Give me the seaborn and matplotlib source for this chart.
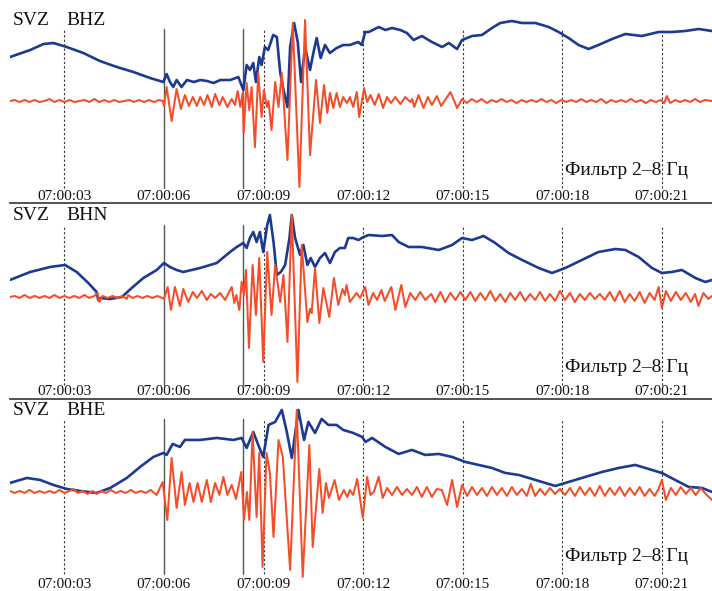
import pandas as pd
import matplotlib
matplotlib.use("Agg")
import matplotlib.pyplot as plt
import seaborn as sns

# время в секундах после 07:00:00, амплитуда в относительных единицах
BLUE = "#1c3a92"
RED = "#f44d27"

tick_seconds = [3, 6, 9, 12, 15, 18, 21]
dotted_seconds = [3, 9, 12, 15, 18, 21]
pick_seconds = [6.0, 8.39]
channels = ["BHZ", "BHN", "BHE"]
filter_label = "Фильтр 2–8 Гц"

# --- BHZ ---
bhz_raw = [(1.36, 44), (1.97, 51), (2.37, 57), (2.67, 58), (3.07, 54), (3.57, 48), (4.07, 40),
           (4.58, 34), (5.08, 29), (5.58, 23), (5.98, 19), (6.08, 27), (6.18, 19), (6.28, 14),
           (6.38, 21), (6.53, 14), (6.69, 21), (6.9, 19), (7.09, 21), (7.3, 20), (7.49, 18),
           (7.7, 21), (7.89, 21), (8.0, 21), (8.24, 24), (8.39, 11), (8.49, 36), (8.59, 31),
           (8.69, 38), (8.77, 19), (8.87, 44), (8.94, 36), (9.04, 54), (9.14, 51), (9.29, 66),
           (9.40, 64), (9.50, 29), (9.60, 11), (9.72, -6), (9.80, 54), (9.92, 78), (10.03, 59),
           (10.13, 19), (10.25, 54), (10.40, 31), (10.50, 48), (10.60, 63), (10.72, 43),
           (10.85, 56), (11.00, 48), (11.20, 53), (11.40, 56), (11.60, 56), (11.85, 59),
           (11.96, 56), (12.06, 69), (12.17, 69), (12.47, 74), (12.67, 71), (12.87, 73),
           (13.12, 71), (13.32, 68), (13.52, 61), (13.77, 65), (14.07, 59), (14.38, 54),
           (14.58, 58), (14.83, 52), (14.98, 61), (15.28, 65), (15.58, 66), (15.88, 73),
           (16.13, 78), (16.48, 80), (16.79, 78), (17.19, 78), (17.59, 74), (17.89, 69),
           (18.19, 63), (18.49, 56), (18.79, 52), (19.09, 56), (19.50, 62), (19.90, 67),
           (20.40, 65), (20.90, 69), (21.30, 69), (21.70, 70), (22.11, 72), (22.51, 70)]

bhz_filt = [(1.36, 0), (1.50, 1), (1.65, -1), (1.80, 1), (1.95, -1), (2.10, 1), (2.25, -1),
            (2.40, 0), (2.55, 2), (2.70, -1), (2.85, 1), (3.00, -1), (3.15, 1), (3.30, -1),
            (3.45, 0), (3.60, 1), (3.75, -1), (3.90, 2), (4.05, -1), (4.20, 1), (4.35, -1),
            (4.50, 1), (4.65, -1), (4.80, 0), (4.95, 1), (5.10, -1), (5.25, 1), (5.40, -1),
            (5.55, 1), (5.70, -1), (5.85, 1), (5.97, 0),
            (6.00, -5), (6.08, 14), (6.23, -20), (6.38, 12), (6.51, -8), (6.63, 6), (6.75, -5),
            (6.87, 4), (6.99, -5), (7.09, 4), (7.21, -4), (7.31, 6), (7.44, -6), (7.54, 7),
            (7.67, -4), (7.77, 4), (7.91, -6), (8.04, 2), (8.14, -4), (8.22, 10), (8.30, -6),
            (8.37, 8), (8.40, -32), (8.49, 18), (8.57, -9), (8.64, 14), (8.74, -46), (8.84, 28),
            (8.94, -16), (9.01, 11), (9.10, -6), (9.15, 0), (9.24, -29), (9.35, 19), (9.45, -6),
            (9.55, 28), (9.72, -59), (9.88, 78), (10.08, -86), (10.25, 81), (10.40, -54),
            (10.58, 21), (10.70, -22), (10.82, 16), (10.92, -12), (11.00, 8), (11.10, -7),
            (11.20, 8), (11.30, -6), (11.40, 4), (11.51, -2), (11.60, 4), (11.70, -6),
            (11.81, 9), (11.88, -16), (12.03, 13), (12.12, -1), (12.22, 6), (12.35, -4),
            (12.47, 7), (12.60, -7), (12.72, 4), (12.84, -2), (12.97, 4), (13.12, -3),
            (13.27, 4), (13.42, -1), (13.48, 2), (13.54, -6), (13.67, 6), (13.82, -7),
            (13.95, 4), (14.07, -4), (14.22, 5), (14.35, -5), (14.47, 1), (14.63, 9),
            (14.83, -7), (14.98, 2),
            (15.12, -2), (15.27, 2), (15.42, -1), (15.57, 2), (15.72, -2), (15.87, 1),
            (16.02, -1), (16.17, 2), (16.32, -1), (16.47, 1), (16.62, -2), (16.77, 1),
            (16.92, -1), (17.07, 1), (17.22, -1), (17.37, 2), (17.52, -1), (17.67, 1),
            (17.82, -2), (17.97, 1), (18.12, -1), (18.27, 1), (18.42, -1), (18.57, 2),
            (18.72, -1), (18.87, 1), (19.02, -1), (19.17, 2), (19.32, -2), (19.47, 1),
            (19.62, -1), (19.77, 1), (19.92, -1), (20.07, 2), (20.22, -1), (20.37, 1),
            (20.52, -2), (20.67, 1), (20.82, -1), (20.97, 1), (21.07, -2), (21.15, 5),
            (21.25, -2), (21.40, 1), (21.55, -1), (21.70, 1), (21.85, -1), (22.00, 2),
            (22.15, -1), (22.30, 1), (22.51, 0)]

# --- BHN ---
bhn_raw = [(1.36, 17), (1.97, 25), (2.57, 30), (3.02, 32), (3.37, 25), (3.72, 14), (3.97, 5),
           (4.02, -3), (4.07, -1), (4.38, -2), (4.73, 0), (5.03, 9), (5.38, 19), (5.78, 27),
           (6.00, 34), (6.18, 30), (6.38, 27), (6.58, 25), (7.09, 29), (7.59, 34), (7.99, 45),
           (8.19, 50), (8.39, 54), (8.49, 49), (8.59, 59), (8.69, 65), (8.79, 55), (8.89, 65),
           (8.99, 45), (9.11, 72), (9.19, 82), (9.30, 55), (9.40, 22), (9.52, 25), (9.65, 32),
           (9.78, 59), (9.85, 82), (9.95, 59), (10.10, 42), (10.20, 52), (10.32, 32),
           (10.42, 39), (10.55, 30), (10.70, 39), (10.85, 44), (11.00, 34), (11.15, 45),
           (11.30, 49), (11.45, 49), (11.55, 59), (11.70, 59), (11.86, 57), (12.01, 60),
           (12.17, 62), (12.57, 61), (12.87, 62), (13.07, 55), (13.37, 50), (13.77, 50),
           (14.28, 47), (14.68, 52), (14.98, 59), (15.28, 57), (15.63, 61), (15.98, 54),
           (16.38, 44), (16.79, 37), (17.29, 29), (17.69, 24), (18.09, 29), (18.59, 37),
           (19.09, 45), (19.60, 48), (19.90, 47), (20.30, 40), (20.70, 29), (21.00, 24),
           (21.30, 25), (21.60, 27), (22.01, 19), (22.31, 15), (22.51, 17)]

bhn_filt = [(1.36, 0), (1.50, 1), (1.65, -1), (1.80, 2), (1.95, -1), (2.10, 1), (2.25, -1),
            (2.40, 1), (2.55, -1), (2.70, 2), (2.85, -1), (3.00, 1), (3.15, -1), (3.30, 1),
            (3.45, -1), (3.60, 2), (3.75, -1), (3.90, 1), (4.00, 4), (4.05, -5), (4.15, 1),
            (4.30, -1), (4.45, 1), (4.60, -1), (4.75, 1), (4.88, -2), (4.92, 2), (5.05, -1),
            (5.20, 1), (5.35, -1), (5.50, 1), (5.65, -1), (5.80, 1), (5.95, -1),
            (6.00, -2), (6.11, 10), (6.21, -13), (6.33, 10), (6.48, -9), (6.58, 8), (6.73, -5),
            (6.87, 5), (6.99, -1), (7.14, 6), (7.29, -3), (7.41, 3), (7.54, -1), (7.69, 4),
            (7.84, -3), (8.04, 10), (8.12, -6), (8.18, 2), (8.27, -13), (8.34, 15), (8.41, 2),
            (8.47, 27), (8.56, -51), (8.67, 32), (8.77, -18), (8.87, 39), (8.99, -65),
            (9.11, 45), (9.24, -18), (9.35, 32), (9.50, -5), (9.60, 22), (9.72, -45),
            (9.85, 82), (10.02, -85), (10.15, 52), (10.32, -25), (10.40, -12), (10.45, -16),
            (10.55, 29), (10.68, -26), (10.80, 9), (10.98, -20), (11.12, 19), (11.25, -8),
            (11.38, 8), (11.45, 2), (11.50, 12), (11.60, -5), (11.80, 4), (11.91, -1),
            (12.06, 10), (12.16, -8), (12.30, 4), (12.42, -3), (12.55, 7), (12.65, -4),
            (12.85, 10), (12.97, -13), (13.15, 12), (13.27, -10), (13.42, 4), (13.57, -3),
            (13.72, 5), (13.87, -3), (14.05, 3), (14.17, -5), (14.33, 5), (14.47, -5),
            (14.63, 4), (14.78, -3), (14.93, 5), (15.08, -3), (15.23, 5), (15.38, -4),
            (15.53, 4), (15.68, -3), (15.83, 6), (15.98, -4), (16.13, 3), (16.28, -5),
            (16.43, 4), (16.58, -3), (16.73, 5), (16.88, -4), (17.03, 3), (17.18, -3),
            (17.33, 5), (17.48, -4), (17.63, 3), (17.78, -4), (17.93, 6), (18.08, -3),
            (18.23, 4), (18.38, -5), (18.53, 3), (18.68, -3), (18.83, 4), (18.98, -2),
            (19.13, 3), (19.28, -3), (19.43, 5), (19.58, -4), (19.73, 6), (19.88, -5),
            (20.03, 3), (20.18, -4), (20.33, 5), (20.48, -6), (20.63, 4), (20.78, -3),
            (20.90, 10), (21.00, -11), (21.12, 6), (21.27, -4), (21.42, 5), (21.57, -3),
            (21.72, 4), (21.87, -5), (22.00, 3), (22.10, -9), (22.25, 4), (22.40, -2),
            (22.51, 1)]

# --- BHE ---
bhe_raw = [(1.36, 9), (1.87, 14), (2.27, 12), (2.67, 7), (3.07, 3), (3.47, 1), (3.97, -1),
           (4.38, 4), (4.88, 14), (5.28, 25), (5.68, 35), (5.98, 39), (6.08, 37), (6.26, 48),
           (6.48, 45), (6.63, 52), (7.09, 52), (7.59, 54), (8.09, 52), (8.34, 54), (8.49, 44),
           (8.69, 60), (8.84, 47), (8.99, 35), (9.15, 67), (9.35, 70), (9.55, 82), (9.70, 60),
           (9.85, 34), (10.05, 82), (10.22, 52), (10.35, 70), (10.55, 59), (10.75, 73),
           (10.95, 67), (11.20, 67), (11.40, 62), (11.70, 59), (11.97, 55), (12.07, 50),
           (12.27, 54), (12.67, 45), (13.07, 38), (13.47, 42), (13.87, 37), (14.28, 38),
           (14.68, 35), (15.08, 30), (15.48, 27), (15.88, 24), (16.28, 19), (16.69, 17),
           (17.09, 13), (17.49, 9), (17.79, 6), (18.19, 10), (18.69, 15), (19.20, 20),
           (19.70, 24), (20.20, 27), (20.70, 22), (21.00, 19), (21.40, 12), (21.81, 5),
           (22.21, 4), (22.51, 0)]

bhe_filt = [(1.36, 1), (1.50, -1), (1.65, 1), (1.80, -1), (1.95, 2), (2.10, -1), (2.25, 1),
            (2.40, -1), (2.55, 1), (2.70, -1), (2.85, 2), (3.00, -1), (3.15, 1), (3.28, 3),
            (3.40, -1), (3.55, 1), (3.70, -2), (3.85, 1), (3.97, -2), (4.10, 1), (4.25, -1),
            (4.40, 2), (4.55, -1), (4.70, 1), (4.85, -1), (5.00, 2), (5.15, -1), (5.30, 1),
            (5.45, -1), (5.60, 2), (5.78, -3),
            (5.96, 10), (6.10, -28), (6.23, 34), (6.38, -16), (6.53, 20), (6.63, -13),
            (6.77, 9), (6.89, -10), (7.01, 9), (7.14, -10), (7.29, 12), (7.41, -10), (7.54, 9),
            (7.67, -3), (7.79, 15), (7.91, -3), (8.04, 7), (8.17, -7), (8.33, 20), (8.41, -28),
            (8.50, 0), (8.57, -28), (8.67, 60), (8.79, -25), (8.87, 39), (8.97, -75),
            (9.09, 39), (9.19, 19), (9.30, -45), (9.45, 52), (9.58, 35), (9.80, -78),
            (10.00, 82), (10.18, -85), (10.38, 47), (10.48, -55), (10.68, 23), (10.78, -21),
            (10.88, 9), (10.97, -6), (11.14, 12), (11.27, -8), (11.42, 2), (11.52, -5),
            (11.60, 2), (11.70, -3), (11.82, 13), (11.99, -26), (12.12, 15), (12.22, -3),
            (12.32, 0), (12.47, 15), (12.59, -6), (12.72, 4), (12.87, -3), (13.02, 5),
            (13.17, -3), (13.32, 3), (13.47, -3), (13.62, 5), (13.77, -5), (13.92, 5),
            (14.07, -5), (14.22, 3), (14.37, 2), (14.53, -13), (14.68, 12), (14.83, -15),
            (14.98, 7), (15.13, -4), (15.28, 5), (15.43, -3), (15.58, 4), (15.73, -4),
            (15.88, 5), (16.03, -3), (16.18, 4), (16.33, -4), (16.48, 5), (16.63, -3),
            (16.78, 3), (16.93, -4), (17.05, 8), (17.18, -4), (17.33, 3), (17.48, -3),
            (17.63, 4), (17.78, -2), (17.93, 3), (18.08, -3), (18.23, 4), (18.38, -4),
            (18.53, 5), (18.68, -3), (18.83, 4), (18.98, -4), (19.13, 6), (19.28, -4),
            (19.43, 4), (19.58, -3), (19.73, 5), (19.88, -4), (20.03, 4), (20.18, -3),
            (20.33, 5), (20.48, -4), (20.63, 3), (20.78, -4), (20.90, 3), (21.00, 12),
            (21.12, -8), (21.27, 4), (21.42, -3), (21.57, 5), (21.72, -2), (21.87, 4),
            (22.02, -3), (22.17, 4), (22.32, -2), (22.51, -8)]

raw_traces = [bhz_raw, bhn_raw, bhe_raw]
filt_traces = [bhz_filt, bhn_filt, bhe_filt]

sns.set_theme(style="white")
plt.rcParams["font.family"] = ["Liberation Serif", "DejaVu Serif"]

fig = plt.figure(figsize=(7.12, 5.91), dpi=100)

# панели: [left, bottom, width, height], пределы по y, положения подписей
panels = [
    dict(rect=[0.014, 0.657, 0.986, 0.343], ylim=(-101.7, 101), vspan=(0.072, 0.855),
         name_y=0.90, filt_y=0.158, tick_y=0.03, sep=True),
    dict(rect=[0.014, 0.325, 0.986, 0.332], ylim=(-102, 94.3), vspan=(0.071, 0.886),
         name_y=0.934, filt_y=0.158, tick_y=0.04, sep=True),
    dict(rect=[0.014, 0.0, 0.986, 0.325], ylim=(-99, 93), vspan=(0.089, 0.896),
         name_y=0.9375, filt_y=0.18, tick_y=0.036, sep=False),
]

for p, chan, raw, filt in zip(panels, channels, raw_traces, filt_traces):
    ax = fig.add_axes(p["rect"])
    ax.set_xlim(1.36, 22.51)
    ax.set_ylim(*p["ylim"])

    lo, hi = p["vspan"]
    for s in dotted_seconds:
        ax.axvline(s, lo, hi, color="#333333", lw=0.8, ls=(0, (2, 2)), zorder=1)
    for s in pick_seconds:
        ax.axvline(s, lo, hi, color="#555555", lw=1.0, zorder=1)

    df_raw = pd.DataFrame(raw, columns=["t", "amp"])
    df_filt = pd.DataFrame(filt, columns=["t", "amp"])
    sns.lineplot(data=df_raw, x="t", y="amp", ax=ax, color=BLUE, lw=1.9,
                 estimator=None, sort=False, zorder=3, solid_joinstyle="round")
    sns.lineplot(data=df_filt, x="t", y="amp", ax=ax, color=RED, lw=1.45,
                 estimator=None, sort=False, zorder=4, solid_joinstyle="round")

    xt = ax.get_xaxis_transform()
    for s in tick_seconds:
        ax.text(s, p["tick_y"], f"07:00:{s:02d}", transform=xt, ha="center",
                va="center", fontsize=11, color="#111111")
    ax.text(1.445, p["name_y"], "SVZ", transform=xt, ha="left", va="center",
            fontsize=14, color="#111111")
    ax.text(3.05, p["name_y"], chan, transform=xt, ha="left", va="center",
            fontsize=14, color="#111111")
    ax.text(18.08, p["filt_y"], filter_label, transform=xt, ha="left", va="center",
            fontsize=14, color="#111111", zorder=5)

    ax.set_xlabel("")
    ax.set_ylabel("")
    ax.set_xticks([])
    ax.set_yticks([])
    for side in ["top", "left", "right"]:
        ax.spines[side].set_visible(False)
    if p["sep"]:
        ax.spines["bottom"].set_color("#444444")
        ax.spines["bottom"].set_linewidth(1.3)
    else:
        ax.spines["bottom"].set_visible(False)
    ax.patch.set_alpha(0)

fig.savefig("out.png", dpi=100, facecolor="white")
